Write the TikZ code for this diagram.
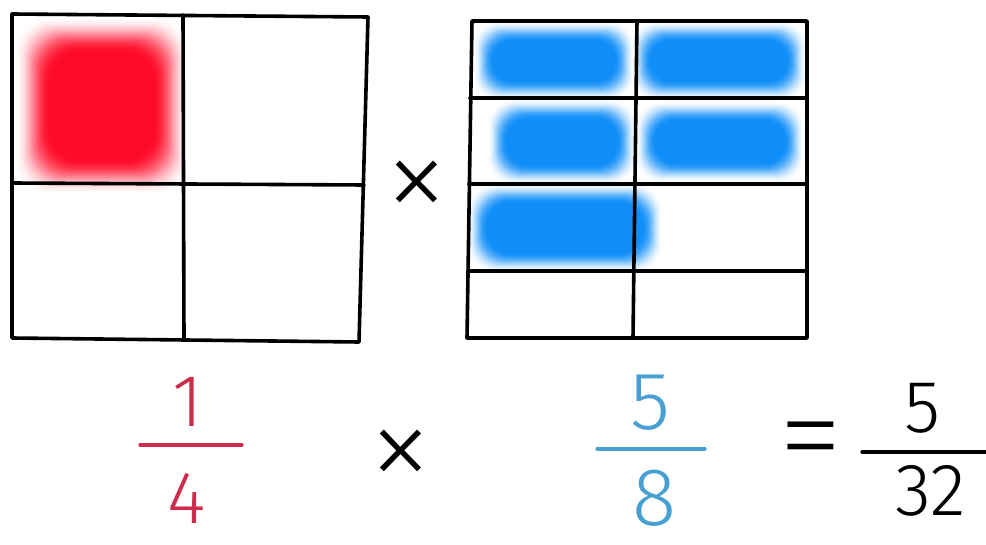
\documentclass[tikz,border=0pt]{standalone}
\usepackage{fontspec}
\newfontfamily\handfont{Fira Sans Light}
\newfontfamily\signfont{Fira Sans ExtraLight}
\usetikzlibrary{positioning}

\definecolor{patchred}{RGB}{255,10,40}
\definecolor{patchblue}{RGB}{16,142,248}
\definecolor{fracred}{RGB}{205,45,75}
\definecolor{fracblue}{RGB}{72,160,210}

% soft coloured patch: x1,y1,x2,y2,colour,step,radius (smooth edge, 20 layers)
\newcommand{\softpatch}[7]{%
  \foreach \k in {1,...,20}{%
    \pgfmathsetmacro\cur{0.5-0.5*cos(9*\k)}%
    \pgfmathsetmacro\prev{0.5-0.5*cos(9*(\k-1))}%
    \pgfmathsetmacro\op{1-(1-\cur)/(1-\prev)}%
    \pgfmathsetmacro\rad{max(1,min(#7,((#4-#2)-2*(\k-1)*#6)/2-0.5))}%
    \fill[#5, fill opacity=\op, rounded corners=\rad pt]
      ({#1+(\k-1)*#6},{#2+(\k-1)*#6}) rectangle ({#3-(\k-1)*#6},{#4-(\k-1)*#6});
  }}

\begin{document}
\begin{tikzpicture}[
  x=1pt, y=-1pt,
  grid/.style={line width=3.6pt, line join=round, line cap=round},
  bar/.style={line width=3.2pt, line cap=round},
  digit/.style={inner sep=0pt, font=\handfont\fontsize{74pt}{74pt}\selectfont},
  bigdigit/.style={digit, font=\handfont\fontsize{82pt}{82pt}\selectfont},
  sign/.style={inner sep=0pt, font=\signfont\fontsize{132pt}{132pt}\selectfont}
]
\useasboundingbox (0,0) rectangle (986,545);

% shaded parts
\softpatch{16}{18}{188}{194}{patchred}{1.8}{32}
\softpatch{474}{22}{634}{100}{patchblue}{1.0}{22}
\softpatch{632}{22}{806}{100}{patchblue}{1.0}{22}
\softpatch{488}{100}{636}{184}{patchblue}{1.0}{24}
\softpatch{636}{102}{804}{182}{patchblue}{1.0}{24}
\softpatch{468}{184}{662}{272}{patchblue}{1.0}{26}

% quarters
\draw[grid] (12,14) -- (368,17) -- (359,342) -- (12,338) -- cycle;
\draw[grid] (183,15) -- (184,340);
\draw[grid] (12,183) -- (364,185);

% eighths
\draw[grid] (472,21) -- (807,21) -- (807,338) -- (467,338) -- cycle;
\draw[grid] (637,21) -- (633,338);
\draw[grid] (470,98) -- (807,98);
\draw[grid] (469,184) -- (807,184);
\draw[grid] (468,271) -- (807,271);

\node[sign] (timesTop) at (417,192) {×};

% equation
\node[digit, text=fracred] (numA) at (188,402) {1};
\node[digit, text=fracred] (denA) at (187,498) {4};
\draw[bar, fracred] (140,445) -- (242,445);

\node[sign] (timesLow) at (401,461) {×};

\node[bigdigit, text=fracblue] (numB) at (650,403) {5};
\node[bigdigit, text=fracblue] (denB) at (655,498) {8};
\draw[bar, fracblue] (597,449) -- (705,449);

\node[sign] (equals) at (811,451) {=};

\node[digit] (numC) at (923,408) {5};
\node[digit] (denC) at (931,491) {32};
\draw[bar] (862,452) -- (986,452);
\end{tikzpicture}
\end{document}
